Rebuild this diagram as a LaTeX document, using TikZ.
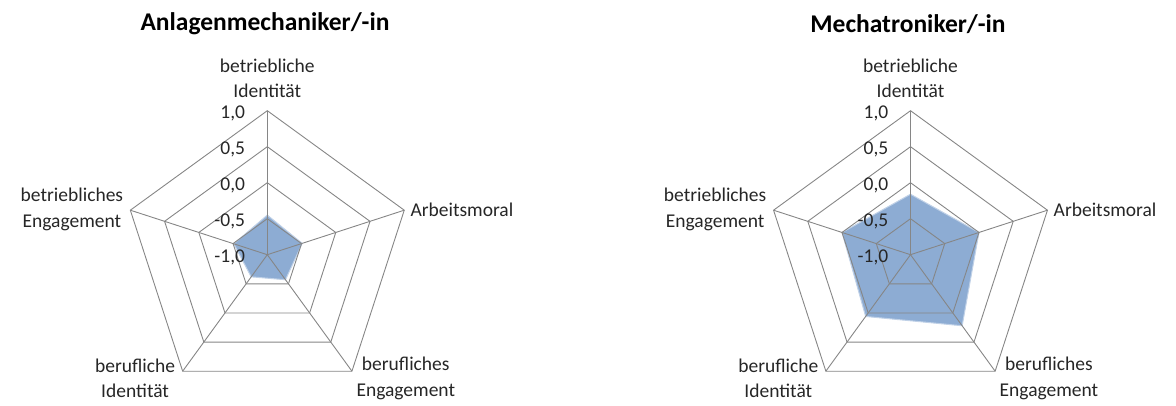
\documentclass[tikz,border=0pt]{standalone}
\usepackage{fontspec}
\setmainfont{Carlito}
\usetikzlibrary{positioning}

\definecolor{gridgray}{RGB}{134,134,134}
\definecolor{areablue}{RGB}{141,172,211}
\definecolor{textgray}{RGB}{38,38,38}

\tikzset{
    ring/.style={draw=gridgray, line width=0.9pt},
    area/.style={fill=areablue, draw=areablue!55!white, line width=1pt},
    ticklabel/.style={font={\fontsize{19.5}{22}\selectfont}, text=textgray, anchor=east, inner sep=0pt},
    axislabel/.style={font={\fontsize{19.5}{25.5}\selectfont}, text=textgray, align=center, inner sep=0pt},
    charttitle/.style={font={\fontsize{25.5}{28}\selectfont\bfseries}, text=black, inner sep=0pt},
}

\begin{document}
\begin{tikzpicture}[x=1pt, y=1pt]
    \useasboundingbox (0,0) rectangle (1176,405);

    % titles
    \node[charttitle] (title-am) at (265,381) {Anlagenmechaniker/-in};
    \node[charttitle] (title-mt) at (908,381) {Mechatroniker/-in};

    % two radar charts: shift / values (top, Arbeitsmoral, ber. Eng., ber. Id., betr. Eng.) / prefix
    \foreach \cx/\va/\vb/\vc/\vd/\ve/\p in {267.3/-0.45/-0.49/-0.57/-0.62/-0.51/am, 910.5/-0.16/0.0/0.22/0.06/0.0/mt} {
        \begin{scope}[shift={(\cx,150.3)}]
            \coordinate (\p-c) at (0,0);
            % data area
            \fill[area] (90:{(\va+1)*72}) -- (18:{(\vb+1)*72}) -- (-54:{(\vc+1)*72})
                -- (-126:{(\vd+1)*72}) -- (162:{(\ve+1)*72}) -- cycle;
            % rings
            \foreach \r in {144,108,72,36}
                \draw[ring] (90:\r) -- (18:\r) -- (-54:\r) -- (-126:\r) -- (162:\r) -- cycle;
            % spokes
            \foreach \a/\n in {90/1,18/2,-54/3,-126/4,162/5} {
                \coordinate (\p-ax\n) at (\a:144);
                \draw[ring] (\p-c) -- (\p-ax\n);
            }
            % scale
            \node[ticklabel] (\p-t1) at (-22,141.5) {1,0};
            \node[ticklabel] (\p-t2) at (-22,105.5) {0,5};
            \node[ticklabel] (\p-t3) at (-22,69.5) {0,0};
            \node[ticklabel] (\p-t4) at (-22,33.5) {-0,5};
            \node[ticklabel] (\p-t5) at (-22,-2.5) {-1,0};
            % axis names
            \node[axislabel] (\p-l1) at (0,176.4) {betriebliche\\Identität};
            \node[axislabel, anchor=west] (\p-l2) at (143,44.7) {Arbeitsmoral};
            \node[axislabel, anchor=west] (\p-l3) at (89,-123.6) {berufliches\\Engagement};
            \node[axislabel, anchor=east] (\p-l4) at (-92,-123.6) {berufliche\\Identität};
            \node[axislabel, anchor=east] (\p-l5) at (-144,45.5) {betriebliches\\Engagement};
        \end{scope}
    }
\end{tikzpicture}
\end{document}
